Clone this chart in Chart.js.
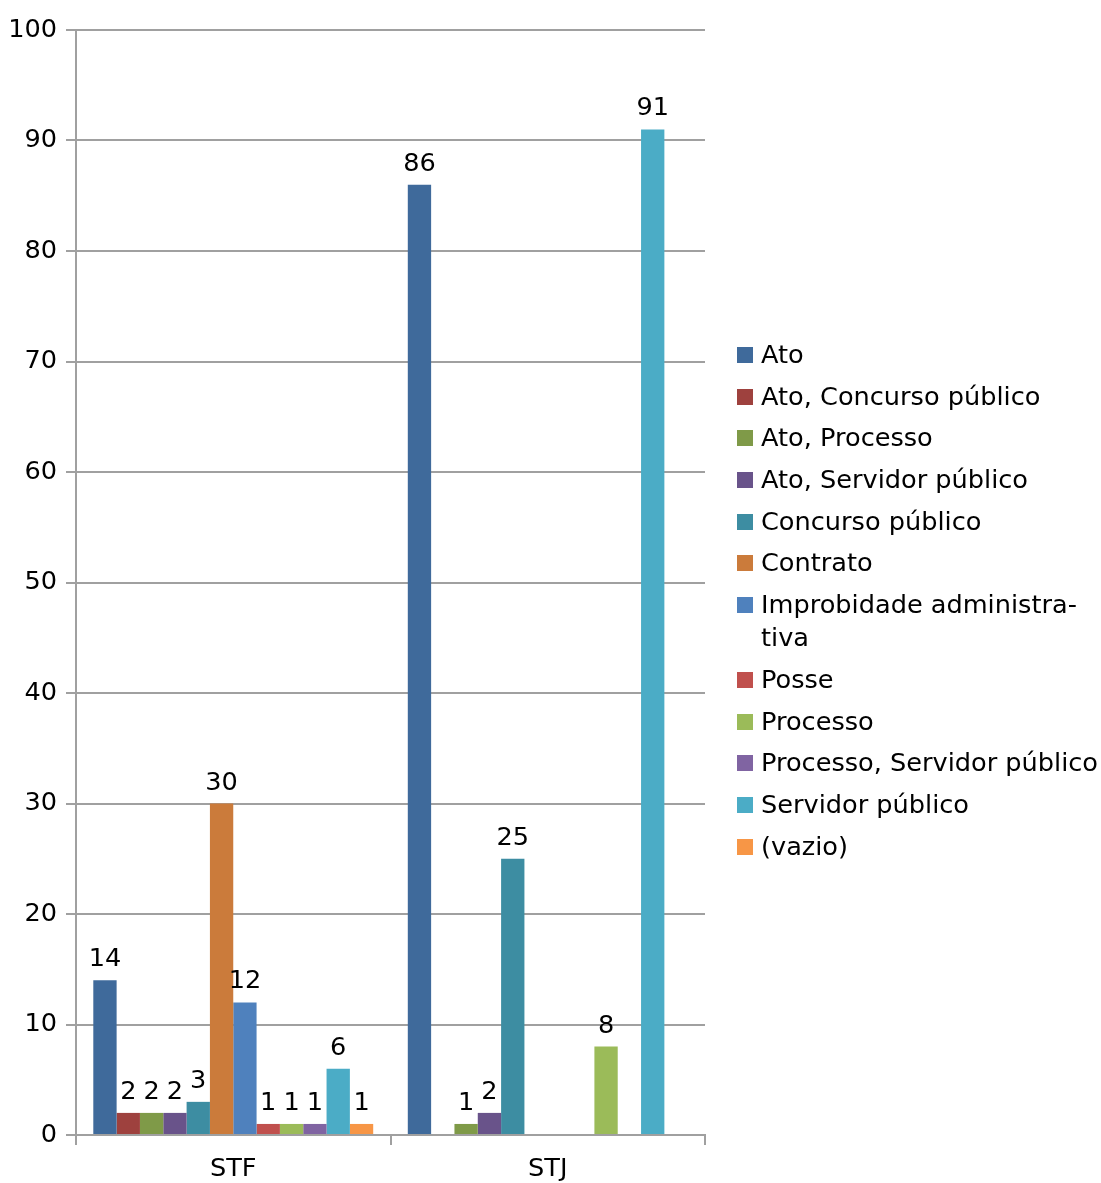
<!DOCTYPE html>
<html>
<head>
<meta charset="utf-8">
<script src="https://cdn.jsdelivr.net/npm/chart.js@4"></script>
<style>
  body { margin: 0; background: #fff; }
  #wrap { position: relative; width: 1101px; height: 1183px; }
  #legend { position: absolute; left: 737px; top: 338px; font-family: "DejaVu Sans", sans-serif; font-size: 25.6px; color: #000; }
  #legend .item { position: relative; padding-left: 24px; line-height: 33px; margin-bottom: 8.7px; white-space: nowrap; }
  #legend .box { position: absolute; left: 0; top: 9px; width: 16px; height: 16px; }
</style>
</head>
<body>
<div id="wrap">
  <canvas id="c" width="1101" height="1183"></canvas>
  <div id="legend"></div>
</div>
<script>
// categories + series
const categories = ['STF', 'STJ'];
const seriesNames = [
  'Ato', 'Ato, Concurso público', 'Ato, Processo', 'Ato, Servidor público',
  'Concurso público', 'Contrato', 'Improbidade administrativa', 'Posse',
  'Processo', 'Processo, Servidor público', 'Servidor público', '(vazio)'
];
// values per series: [STF, STJ]
const ato = [14, 86];
const atoConcurso = [2, null];
const atoProcesso = [2, 1];
const atoServidor = [2, 2];
const concurso = [3, 25];
const contrato = [30, null];
const improbidade = [12, null];
const posse = [1, null];
const processo = [1, 8];
const processoServidor = [1, null];
const servidor = [6, 91];
const vazio = [1, null];
const yTicks = [0, 10, 20, 30, 40, 50, 60, 70, 80, 90, 100];

const seriesValues = [ato, atoConcurso, atoProcesso, atoServidor, concurso, contrato,
  improbidade, posse, processo, processoServidor, servidor, vazio];
const colors = ['#3F6A9B', '#9E413E', '#7F9A48', '#69538A', '#3D8DA2', '#CB7B3B',
  '#4F81BD', '#C0504D', '#9BBB59', '#8064A2', '#4BACC6', '#F79646'];

const FONT = 'DejaVu Sans';
const FSIZE = 25.6;

// value labels above bars
const valueLabels = {
  id: 'valueLabels',
  afterDatasetsDraw(chart) {
    const ctx = chart.ctx;
    ctx.save();
    ctx.font = FSIZE + 'px "' + FONT + '"';
    ctx.fillStyle = '#000';
    ctx.textAlign = 'center';
    ctx.textBaseline = 'alphabetic';
    chart.data.datasets.forEach((ds, i) => {
      chart.getDatasetMeta(i).data.forEach((bar, j) => {
        const v = ds.data[j];
        if (v === null || v === undefined) return;
        ctx.fillText(String(v), bar.x, bar.y - 14);
      });
    });
    ctx.restore();
  }
};

new Chart(document.getElementById('c'), {
  type: 'bar',
  data: {
    labels: categories,
    datasets: seriesNames.map((name, i) => ({
      label: name,
      data: seriesValues[i],
      backgroundColor: colors[i],
      categoryPercentage: 0.89,
      barPercentage: 1.0
    }))
  },
  options: {
    responsive: false,
    animation: false,
    layout: { padding: { top: 30, right: 396, left: 0, bottom: 0 } },
    plugins: {
      legend: { display: false },
      tooltip: { enabled: false }
    },
    scales: {
      x: {
        afterFit: s => { s.height = 48; },
        border: { color: '#a0a0a0', width: 2 },
        grid: { offset: true, drawOnChartArea: false, tickLength: 10, color: '#a0a0a0', lineWidth: 2 },
        ticks: { color: '#000', font: { family: FONT, size: FSIZE }, padding: 9 }
      },
      y: {
        min: 0, max: 100,
        afterFit: s => { s.width = 76; },
        afterBuildTicks: s => { s.ticks = yTicks.map(v => ({ value: v })); },
        border: { color: '#a0a0a0', width: 2 },
        grid: { color: '#a0a0a0', lineWidth: 2, tickLength: 10 },
        ticks: { color: '#000', font: { family: FONT, size: FSIZE }, padding: 9 }
      }
    }
  },
  plugins: [valueLabels]
});

// legend (html, to allow the wrapped label)
const legend = document.getElementById('legend');
seriesNames.forEach((name, i) => {
  const item = document.createElement('div');
  item.className = 'item';
  const box = document.createElement('span');
  box.className = 'box';
  box.style.background = colors[i];
  item.appendChild(box);
  const text = document.createElement('span');
  if (name === 'Improbidade administrativa') {
    text.innerHTML = 'Improbidade administra-<br>tiva';
  } else {
    text.textContent = name;
  }
  item.appendChild(text);
  legend.appendChild(item);
});
</script>
</body>
</html>
